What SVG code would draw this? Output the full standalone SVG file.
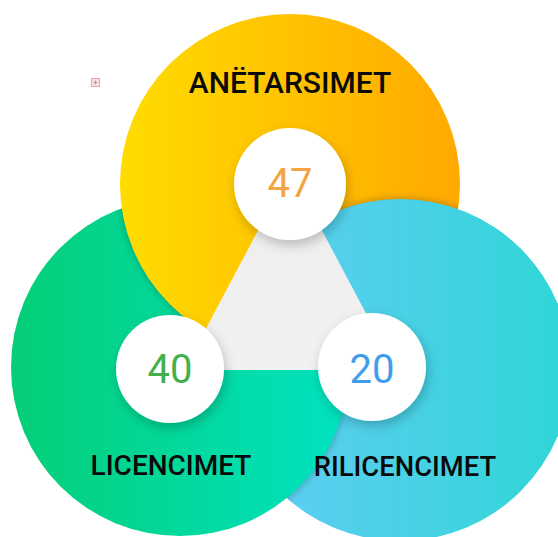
<svg xmlns="http://www.w3.org/2000/svg" width="558" height="537" viewBox="0 0 558 537">
<style>
.lbl{font-family:Roboto,"Liberation Sans",sans-serif;font-weight:500;font-size:28px;fill:#0a0a0a;text-anchor:middle}
.num{font-family:Roboto,"Liberation Sans",sans-serif;font-weight:400;font-size:40px;text-anchor:middle}
.disc{fill:#ffffff;filter:url(#discShadow)}
.sh{fill:#000;opacity:0.28;filter:url(#blur)}
</style>
<defs>
<linearGradient id="gY" x1="0" y1="0" x2="1" y2="0">
<stop offset="0" stop-color="#FFDC00"/><stop offset="1" stop-color="#FFA900"/>
</linearGradient>
<linearGradient id="gG" x1="0" y1="0" x2="1" y2="0">
<stop offset="0" stop-color="#05CE76"/><stop offset="1" stop-color="#00E3C2"/>
</linearGradient>
<linearGradient id="gB" x1="0" y1="0" x2="1" y2="0">
<stop offset="0" stop-color="#66CCF6"/><stop offset="1" stop-color="#2ED6D6"/>
</linearGradient>
<linearGradient id="gT" x1="0" y1="0" x2="0" y2="1">
<stop offset="0" stop-color="#E4E4E4"/><stop offset="0.35" stop-color="#EFEFEF"/><stop offset="1" stop-color="#F1F1F1"/>
</linearGradient>
<filter id="blur" x="-20%" y="-20%" width="140%" height="140%"><feGaussianBlur stdDeviation="4"/></filter>
<filter id="discShadow" x="-40%" y="-40%" width="180%" height="180%">
<feDropShadow dx="2" dy="5" stdDeviation="6" flood-color="#000" flood-opacity="0.22"/>
</filter>
<clipPath id="cBlueC"><circle cx="400" cy="370" r="171"/></clipPath>
<clipPath id="cGreenC"><circle cx="180" cy="367" r="169"/></clipPath>
<clipPath id="cYellowC"><circle cx="290" cy="184" r="170"/></clipPath>
<clipPath id="cBlueTop"><polygon points="290,0 290,184 372,367 558,367 558,0"/></clipPath>
</defs>

<g id="circle-blue">
<circle cx="400" cy="370" r="171" fill="url(#gB)"/>
</g>
<g id="shadow-green" clip-path="url(#cBlueC)">
<circle class="sh" cx="180" cy="367" r="169"/>
</g>
<g id="circle-green">
<circle cx="180" cy="367" r="169" fill="url(#gG)"/>
</g>
<g id="shadow-yellow" clip-path="url(#cGreenC)">
<circle class="sh" cx="290" cy="184" r="170"/>
</g>
<g id="circle-yellow">
<circle cx="290" cy="184" r="170" fill="url(#gY)"/>
</g>
<g id="shadow-blue" clip-path="url(#cYellowC)">
<g clip-path="url(#cBlueTop)">
<circle class="sh" cx="400" cy="370" r="171"/>
</g>
</g>
<g id="circle-blue-top" clip-path="url(#cBlueTop)">
<circle cx="400" cy="370" r="171" fill="url(#gB)"/>
</g>

<g id="center-triangle">
<polygon points="290,170 184,370 396,370" fill="url(#gT)"/>
</g>

<g id="node-anetarsimet">
<circle class="disc" cx="290" cy="184" r="56"/>
<text class="num" x="290" y="197" fill="#F4A443">47</text>
<text class="lbl" x="290" y="93" style="font-size:30px">ANËTARSIMET</text>
</g>
<g id="node-licencimet">
<circle class="disc" cx="170" cy="369" r="54"/>
<text class="num" x="170" y="383" fill="#45AF4C">40</text>
<text class="lbl" x="171" y="475">LICENCIMET</text>
</g>
<g id="node-rilicencimet">
<circle class="disc" cx="372" cy="367" r="54"/>
<text class="num" x="372" y="383" fill="#3F9DEB">20</text>
<text class="lbl" x="405" y="476" style="font-size:27.4px">RILICENCIMET</text>
</g>

<g id="icon">
<rect x="91.5" y="78.5" width="8" height="8" fill="#FBE0E3" stroke="#F0A0AA" stroke-width="1"/>
<path d="M93.5 82.5h4M95.5 80.5v4" stroke="#EC7F8D" stroke-width="1"/>
</g>
</svg>
